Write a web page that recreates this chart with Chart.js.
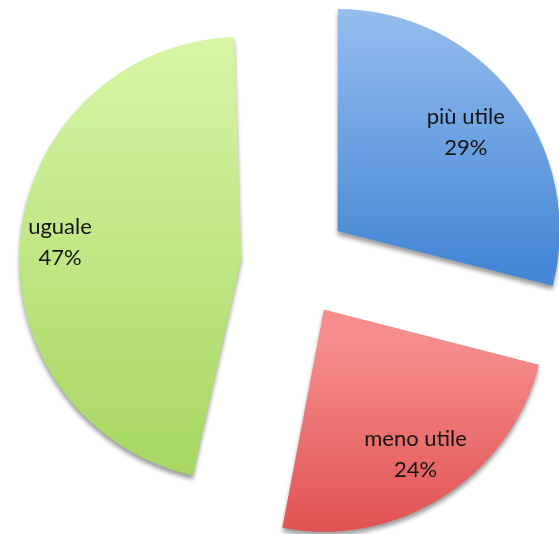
<!DOCTYPE html>
<html lang="it">
<head>
<meta charset="UTF-8">
<title>torta</title>
<style>
  body { margin: 0; background: #fff; }
  #box { width: 559px; height: 534px; }
</style>
</head>
<body>
<div id="box"><canvas id="torta"></canvas></div>

<script src="https://cdn.jsdelivr.net/npm/chart.js"></script>
<script>
const categorie = ['più utile', 'meno utile', 'uguale'];
const percentuali = [29, 24, 47];

// colori chiaro -> scuro per ogni fetta (sfumatura verticale)
const coloriChiari = ['#a0c4f1', '#f68c8c', '#d8f6a8'];
const coloriScuri = ['#4487d6', '#dd4646', '#a6d660'];
const sfumatureY = [[10, 300], [300, 525], [35, 490]];

const stacco = 216; // offset della fetta esplosa

function sfumatura(ctx) {
    const c = ctx.chart.ctx;
    const i = ctx.dataIndex;
    const g = c.createLinearGradient(0, sfumatureY[i][0], 0, sfumatureY[i][1]);
    g.addColorStop(0, coloriChiari[i]);
    g.addColorStop(1, coloriScuri[i]);
    return g;
}

function fixRaggio(arc) {
    return 1 - Math.sin(Math.min(Math.PI, arc.circumference));
}

// toglie la crescita del raggio che chart.js aggiunge alle fette spostate
const correggiRaggio = {
    id: 'correggiRaggio',
    afterDatasetsUpdate(chart) {
        chart.getDatasetMeta(0).data.forEach(arc => {
            arc.outerRadius -= (arc.options.offset / 4) * fixRaggio(arc);
        });
    }
};

const ombra = {
    id: 'ombra',
    beforeDatasetsDraw(chart) {
        const c = chart.ctx;
        c.save();
        c.shadowColor = 'rgba(40,40,40,0.45)';
        c.shadowBlur = 4;
        c.shadowOffsetX = 0;
        c.shadowOffsetY = 4;
    },
    afterDatasetsDraw(chart) {
        chart.ctx.restore();
    }
};

// distanza dell'etichetta dal centro, in frazione del raggio
const distEtichetta = [0.73, 0.77, 0.82];

const etichette = {
    id: 'etichette',
    afterDatasetsDraw(chart) {
        const c = chart.ctx;
        c.save();
        c.font = '22px Lato';
        c.fillStyle = '#141414';
        c.textAlign = 'center';
        c.textBaseline = 'middle';
        chart.getDatasetMeta(0).data.forEach((arc, i) => {
            const mid = (arc.startAngle + arc.endAngle) / 2;
            const sp = arc.options.offset / 4;
            const raggio = arc.outerRadius + sp * fixRaggio(arc);
            const r = sp + raggio * distEtichetta[i];
            const x = arc.x + Math.cos(mid) * r;
            const y = arc.y + Math.sin(mid) * r;
            c.fillText(categorie[i], x, y - 15);
            c.fillText(percentuali[i] + '%', x, y + 16);
        });
        c.restore();
    }
};

new Chart(document.getElementById('torta'), {
    type: 'pie',
    data: {
        labels: categorie,
        datasets: [{
            data: percentuali,
            backgroundColor: sfumatura,
            borderWidth: 0,
            offset: stacco
        }]
    },
    options: {
        responsive: true,
        maintainAspectRatio: false,
        animation: false,
        radius: 222,
        layout: { padding: { left: 31, right: 0, top: 0, bottom: 6 } },
        plugins: {
            legend: { display: false },
            tooltip: { enabled: false }
        }
    },
    plugins: [correggiRaggio, ombra, etichette]
});
</script>
</body>
</html>
